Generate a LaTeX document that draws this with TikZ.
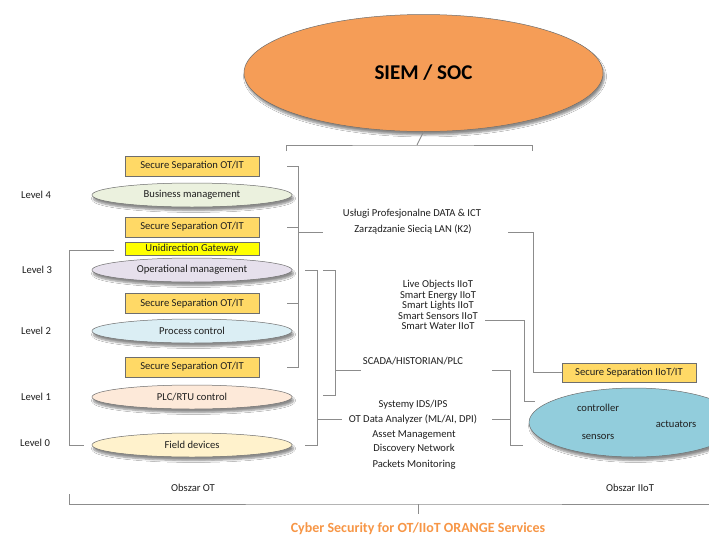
\documentclass[tikz,border=0pt]{standalone}
\usepackage{fontspec}
\setmainfont{Carlito}
\usetikzlibrary{shapes.geometric,shadows.blur}

\definecolor{linegrey}{HTML}{8C8C8C}
\definecolor{edgegrey}{HTML}{6E6E6E}
\definecolor{siemfill}{HTML}{F59D57}
\definecolor{sepfill}{HTML}{FFD966}
\definecolor{gwfill}{HTML}{FFFF00}
\definecolor{bizfill}{HTML}{EBF1DE}
\definecolor{opfill}{HTML}{E6E0EC}
\definecolor{procfill}{HTML}{DBEEF4}
\definecolor{plcfill}{HTML}{FDE9D9}
\definecolor{fieldfill}{HTML}{FFF2CC}
\definecolor{iiotfill}{HTML}{92CDDC}
\definecolor{titleorange}{HTML}{F79646}
\definecolor{txt}{HTML}{1F1F1F}

\tikzset{
  shade3d/.style={blur shadow={shadow xshift=1.5pt, shadow yshift=-3.5pt,
      shadow opacity=45, shadow blur steps=6}},
  lvl/.style={ellipse, draw=edgegrey, line width=0.5pt, minimum width=200pt,
      minimum height=24pt, inner sep=0pt, text=txt, shade3d},
  sepbox/.style={rectangle, draw=edgegrey, line width=0.5pt, fill=sepfill,
      minimum width=134pt, minimum height=20pt, inner sep=0pt, text=txt},
  lbl/.style={text=txt, inner sep=0pt, align=center},
  link/.style={draw=linegrey, line width=0.9pt},
}

\begin{document}
\begin{tikzpicture}[x=1pt, y=-1pt, font=\fontsize{10.6}{12}\selectfont]
\useasboundingbox[fill=white] (0,0) rectangle (709,536);

% SIEM / SOC
\node[ellipse, draw=edgegrey, line width=0.5pt, fill=siemfill, minimum width=359pt,
      minimum height=117pt, inner sep=0pt, shade3d,
      font=\fontsize{21}{24}\selectfont\bfseries, text=black] (siem) at (423.5,73) {SIEM / SOC};

% OT levels
\node[sepbox] (ss1) at (192,166) {Secure Separation OT/IT};
\node[lvl, fill=bizfill] (biz) at (192,195) {Business management};
\node[sepbox] (ss2) at (192,227) {Secure Separation OT/IT};
\node[sepbox, fill=gwfill, minimum height=13pt] (gw) at (192,248.5) {Unidirection Gateway};
\node[lvl, fill=opfill] (op) at (192,270) {Operational management};
\node[sepbox] (ss3) at (192,303.5) {Secure Separation OT/IT};
\node[lvl, fill=procfill] (proc) at (192,331) {Process control};
\node[sepbox] (ss4) at (192,367) {Secure Separation OT/IT};
\node[lvl, fill=plcfill] (plc) at (192,397) {PLC/RTU control};
\node[lvl, fill=fieldfill] (field) at (192,445) {Field devices};

% level captions
\node[lbl] (l4) at (36,195) {Level 4};
\node[lbl] (l3) at (37,270) {Level 3};
\node[lbl] (l2) at (36,331) {Level 2};
\node[lbl] (l1) at (36,397) {Level 1};
\node[lbl] (l0) at (35,443) {Level 0};

% IIoT side
\node[sepbox, minimum width=134pt, minimum height=19pt] (ssi) at (629,372.5) {Secure Separation IIoT/IT};
\node[ellipse, draw=edgegrey, line width=0.5pt, fill=iiotfill, minimum width=210pt,
      minimum height=69pt, inner sep=0pt, shade3d] (iiot) at (634,422.5) {};
\node[lbl] (ctrl) at (598,408) {controller};
\node[lbl] (act) at (676,424) {actuators};
\node[lbl] (sens) at (598,437) {sensors};

% service texts
\node[lbl] (svc1) at (412,214) {Usługi Profesjonalne DATA \& ICT};
\node[lbl] (svc2) at (413,229.5) {Zarządzanie Siecią LAN (K2)};
\node[lbl, font=\fontsize{10.6}{10.6}\selectfont] (iot) at (438,305) {Live Objects IIoT\\Smart Energy IIoT\\Smart Lights IIoT\\Smart Sensors IIoT\\Smart Water IIoT};
\node[lbl] (scada) at (413,361) {SCADA/HISTORIAN/PLC};
\node[lbl] (ids) at (413,405) {Systemy IDS/IPS};
\node[lbl] (otda) at (413,419) {OT Data Analyzer (ML/AI, DPI)};
\node[lbl] (asset) at (414,435) {Asset Management};
\node[lbl] (disc) at (414,449) {Discovery Network};
\node[lbl] (pkt) at (414,465) {Packets Monitoring};

\node[lbl] (obot) at (193,488) {Obszar OT};
\node[lbl] (obiiot) at (630,488) {Obszar IIoT};
\node[inner sep=0pt, text=titleorange, font=\fontsize{14}{16}\selectfont\bfseries] (title) at (418,529) {Cyber Security for OT/IIoT ORANGE Services};

% bracket below SIEM
\coordinate (siemfork) at (417,145);
\draw[link] (siem.south) -- (siemfork);
\draw[link] (286,151) |- (siemfork) -| (532,151);

% separation boxes tied to the service line
\coordinate (sepbus) at (298,232);
\draw[link] (287,166) -| (sepbus);
\draw[link] (287,227) -- (298,227);
\draw[link] (287,303.5) -- (298,303.5);
\draw[link] (287,367) -| (sepbus);
\draw[link] (sepbus) -- (323,232);

% service line out to the IIoT separation box
\draw[link] (508,232) -| (533,372.5) -- (ssi.west);

% unidirectional gateway loop
\draw[link] (114,250) -- (69,250) |- (84,445);

% SCADA bracket
\draw[link] (323,270) -| (335,395) -- (323,395);
\draw[link] (335,370) -- (361,370);

% monitoring bracket
\draw[link] (305,270) -| (317,445) -- (305,445);
\draw[link] (317,419) -- (342,419);

% right-hand feeds into the IIoT area
\draw[link] (492,370) -| (510,445) -- (523,445);
\draw[link] (492,419) -- (510,419);
\draw[link] (485,320) -| (524,401) -- (535,401);

% bottom bracket
\coordinate (botfork) at (418,504);
\draw[link] (69,494) |- (botfork) -- (709,504);
\draw[link] (botfork) -- (418,514);
\end{tikzpicture}
\end{document}
